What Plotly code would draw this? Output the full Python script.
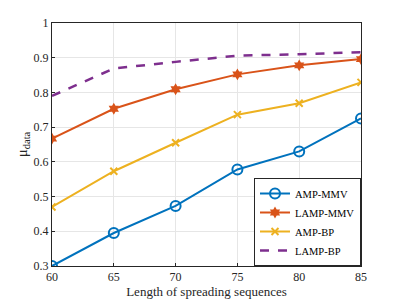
import plotly.graph_objects as go

lengths = [60, 65, 70, 75, 80, 85]
amp_mmv = [0.300, 0.395, 0.473, 0.578, 0.630, 0.725]
lamp_mmv = [0.667, 0.753, 0.809, 0.852, 0.878, 0.896]
amp_bp = [0.470, 0.573, 0.655, 0.736, 0.769, 0.829]
lamp_bp = [0.790, 0.869, 0.888, 0.906, 0.910, 0.916]

x_ticks = [60, 65, 70, 75, 80, 85]
y_ticks = [0.3, 0.4, 0.5, 0.6, 0.7, 0.8, 0.9, 1.0]
y_tick_text = ["0.3", "0.4", "0.5", "0.6", "0.7", "0.8", "0.9", "1"]

FONT = "Liberation Serif, Times New Roman, serif"

fig = go.Figure()
fig.add_trace(go.Scatter(x=lengths, y=amp_mmv, name="AMP-MMV", mode="lines+markers",
                         line=dict(color="#0072BD", width=2),
                         marker=dict(symbol="circle-open", size=10, line=dict(width=2, color="#0072BD"))))
fig.add_trace(go.Scatter(x=lengths, y=lamp_mmv, name="LAMP-MMV", mode="lines+markers",
                         line=dict(color="#D95319", width=2),
                         marker=dict(symbol="hexagram", size=9, color="#D95319")))
fig.add_trace(go.Scatter(x=lengths, y=amp_bp, name="AMP-BP", mode="lines+markers",
                         line=dict(color="#EDB120", width=2),
                         marker=dict(symbol="x-thin", size=7, line=dict(width=2, color="#EDB120"))))
fig.add_trace(go.Scatter(x=lengths, y=lamp_bp, name="LAMP-BP", mode="lines",
                         line=dict(color="#7E2F8E", width=2.5, dash="dash")))

# the page body adds an 8px margin, so the figure is 8px smaller on each axis
fig.update_layout(
    width=391, height=291,
    margin=dict(l=44, r=38, t=15, b=33, autoexpand=False),
    paper_bgcolor="white", plot_bgcolor="white",
    font=dict(family=FONT, size=12, color="#262626"),
    showlegend=True,
    legend=dict(x=1, y=0, xanchor="right", yanchor="bottom",
                bgcolor="white", bordercolor="#262626", borderwidth=1,
                font=dict(family=FONT, size=10.5, color="#000000"),
                tracegroupgap=0, itemwidth=30),
)
fig.update_xaxes(range=[60, 85], tickvals=x_ticks, showgrid=True, gridcolor="#e6e6e6",
                 showline=True, linecolor="#262626", linewidth=1, mirror=True, automargin=False,
                 ticks="inside", ticklen=3, tickcolor="#262626", zeroline=False,
                 title=dict(text="Length of spreading sequences", font=dict(size=13), standoff=0))
fig.update_yaxes(range=[0.3, 1.0], tickvals=y_ticks, ticktext=y_tick_text, showgrid=True,
                 gridcolor="#e6e6e6", showline=True, linecolor="#262626", linewidth=1, mirror=True,
                 ticks="inside", ticklen=3, tickcolor="#262626", zeroline=False, automargin=False,
                 title=dict(text="μ<sub>data</sub>", font=dict(size=15), standoff=2))

fig.write_html("out.html")
